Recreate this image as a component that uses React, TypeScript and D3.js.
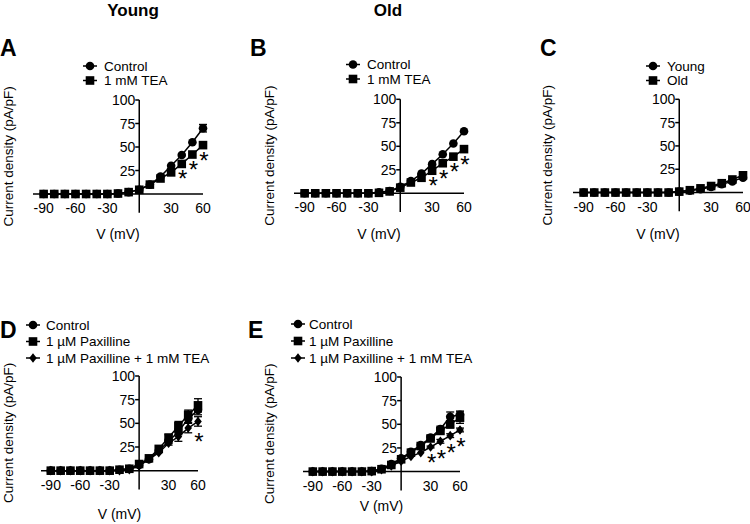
import React from "react";
import * as d3 from "d3";

// ---- Data ----
const VOLTAGES = [-90, -80, -70, -60, -50, -40, -30, -20, -10, 0, 10, 20, 30, 40, 50, 60];
const X_TICKS = [-90, -60, -30, 30, 60];
const Y_TICKS = [25, 50, 75, 100];

// Panel A (Young)
const A_CONTROL = [0, 0, 0, 0, 0, 0, 0, 0.5, 2, 4.5, 10, 18.5, 30, 41.5, 55, 70];
const A_CONTROL_SEM = [0, 0, 0, 0, 0, 0, 0, 0, 0, 0, 0, 0, 0, 0, 0, 4];
const A_TEA = [0, 0, 0, 0, 0, 0, 0, 0.5, 2, 4.5, 10, 16.5, 23, 32, 42, 52];
const A_TEA_SEM = [0, 0, 0, 0, 0, 0, 0, 0, 0, 0, 0, 0, 0, 0, 0, 0];
const A_STARS = [40, 50, 60];

// Panel B (Old)
const B_CONTROL = [0, 0, 0, 0, 0, 0, 0, 1, 2.5, 7, 13, 21, 31, 41.5, 53, 66];
const B_CONTROL_SEM = [0, 0, 0, 0, 0, 0, 0, 0, 0, 0, 0, 0, 0, 0, 0, 0];
const B_TEA = [0, 0, 0, 0, 0, 0, 0, 0.5, 2, 6, 11.5, 16.5, 24, 32, 39, 47];
const B_TEA_SEM = [0, 0, 0, 0, 0, 0, 0, 0, 0, 0, 0, 0, 0, 0, 0, 0];
const B_STARS = [30, 40, 50, 60];

// Panel C (Young vs Old, TEA-sensitive)
const C_YOUNG = [0, 0, 0, 0, 0, 0, 0, 0, 0, 1, 2, 3.5, 6, 9, 12, 16];
const C_OLD = [0, 0, 0, 0, 0, 0, 0, 0, 0, 1, 2.5, 4.5, 7, 10, 14, 18.5];
const C_SEM = [0, 0, 0, 0, 0, 0, 0, 0, 0, 0, 0, 0, 0, 0, 0, 0];

// Panel D (Young, paxilline)
const D_CONTROL = [0, 0, 0, 0, 0, 0, 0, 1, 2, 6, 12, 21, 31, 41, 55, 64];
const D_CONTROL_SEM = [0, 0, 0, 0, 0, 0, 0, 0, 0, 0, 0, 0, 2, 3, 4, 5];
const D_PAX = [0, 0, 0, 0, 0, 0, 0, 1, 2, 7, 13, 23, 35, 47, 59, 69];
const D_PAX_SEM = [0, 0, 0, 0, 0, 0, 0, 0, 0, 0, 0, 0, 3, 5, 5, 7];
const D_PAXTEA = [0, 0, 0, 0, 0, 0, 0, 0, 1, 5, 12, 19, 29, 36, 45, 52];
const D_PAXTEA_SEM = [0, 0, 0, 0, 0, 0, 0, 0, 0, 0, 0, 0, 2, 5, 5, 5];
const D_STARS = [60];

// Panel E (Old, paxilline)
const E_CONTROL = [0, 0, 0, 0, 0, 0, 0.5, 3, 8, 14, 21, 28, 36, 45, 58, 60];
const E_CONTROL_SEM = [0, 0, 0, 0, 0, 0, 0, 0, 0, 0, 0, 0, 2, 3, 5, 4];
const E_PAX = [0, 0, 0, 0, 0, 0, 0.5, 2.5, 7, 13, 20, 27, 35, 43, 50, 57];
const E_PAX_SEM = [0, 0, 0, 0, 0, 0, 0, 0, 0, 0, 0, 0, 2, 3, 4, 6];
const E_PAXTEA = [0, 0, 0, 0, 0, 0, 0, 2, 6, 11, 16, 20, 26, 32, 38, 44];
const E_PAXTEA_SEM = [0, 0, 0, 0, 0, 0, 0, 0, 0, 0, 0, 0, 1, 2, 2, 2];
const E_STARS = [30, 40, 50, 60];

type Marker = "circle" | "square" | "diamond";
type Series = { name: string; marker: Marker; values: number[]; sem: number[] };

const FONT = "Arial, 'Liberation Sans', Helvetica, sans-serif";

type PanelCfg = {
  letter: string;
  letterX: number;
  letterY: number;
  xRange: [number, number];
  yRange: [number, number]; // [y(-20), y(100)]
  yLabelX: number;
  xLabelY: number;
  legendX: number; // marker center
  legendY: number[]; // marker centers
  legendTextX: number;
  series: Series[];
  stars: number[];
  starRef: number; // index of series under which stars go
};

const PANELS: PanelCfg[] = [
  {
    letter: "A", letterX: 0, letterY: 56,
    xRange: [33, 203], yRange: [212.8, 100],
    yLabelX: 12.5, xLabelY: 239,
    legendX: 90, legendY: [66, 80.5], legendTextX: 104,
    series: [
      { name: "Control", marker: "circle", values: A_CONTROL, sem: A_CONTROL_SEM },
      { name: "1 mM TEA", marker: "square", values: A_TEA, sem: A_TEA_SEM },
    ],
    stars: A_STARS, starRef: 1,
  },
  {
    letter: "B", letterX: 250, letterY: 56,
    xRange: [294, 464], yRange: [212.1, 99.3],
    yLabelX: 274, xLabelY: 239,
    legendX: 353, legendY: [64.5, 79], legendTextX: 367,
    series: [
      { name: "Control", marker: "circle", values: B_CONTROL, sem: B_CONTROL_SEM },
      { name: "1 mM TEA", marker: "square", values: B_TEA, sem: B_TEA_SEM },
    ],
    stars: B_STARS, starRef: 1,
  },
  {
    letter: "C", letterX: 540, letterY: 56,
    xRange: [573, 743], yRange: [211.2, 99.3],
    yLabelX: 552, xLabelY: 239,
    legendX: 653, legendY: [66, 80.5], legendTextX: 667,
    series: [
      { name: "Young", marker: "circle", values: C_YOUNG, sem: C_SEM },
      { name: "Old", marker: "square", values: C_OLD, sem: C_SEM },
    ],
    stars: [], starRef: 1,
  },
  {
    letter: "D", letterX: 0, letterY: 338,
    xRange: [41, 198], yRange: [489.6, 376],
    yLabelX: 12.5, xLabelY: 519,
    legendX: 33, legendY: [325, 341.5, 358], legendTextX: 46,
    series: [
      { name: "Control", marker: "circle", values: D_CONTROL, sem: D_CONTROL_SEM },
      { name: "1 µM Paxilline", marker: "square", values: D_PAX, sem: D_PAX_SEM },
      { name: "1 µM Paxilline + 1 mM TEA", marker: "diamond", values: D_PAXTEA, sem: D_PAXTEA_SEM },
    ],
    stars: D_STARS, starRef: 2,
  },
  {
    letter: "E", letterX: 248, letterY: 338,
    xRange: [303, 460], yRange: [490.5, 377],
    yLabelX: 274, xLabelY: 511,
    legendX: 298, legendY: [324, 341, 358], legendTextX: 309,
    series: [
      { name: "Control", marker: "circle", values: E_CONTROL, sem: E_CONTROL_SEM },
      { name: "1 µM Paxilline", marker: "square", values: E_PAX, sem: E_PAX_SEM },
      { name: "1 µM Paxilline + 1 mM TEA", marker: "diamond", values: E_PAXTEA, sem: E_PAXTEA_SEM },
    ],
    stars: E_STARS, starRef: 2,
  },
];

function MarkerShape({ type, x, y }: { type: Marker; x: number; y: number }) {
  if (type === "circle") return <circle cx={x} cy={y} r={4.3} fill="#000" />;
  if (type === "square") return <rect x={x - 4.3} y={y - 4.3} width={8.6} height={8.6} fill="#000" />;
  const h = 4.8, w = 3.8;
  return <path d={`M${x},${y - h}L${x + w},${y}L${x},${y + h}L${x - w},${y}Z`} fill="#000" />;
}

function Panel({ cfg }: { cfg: PanelCfg }) {
  const x = d3.scaleLinear().domain([-100, 60]).range(cfg.xRange);
  const y = d3.scaleLinear().domain([-20, 100]).range(cfg.yRange);
  const line = d3
    .line<number>()
    .x((_, i) => x(VOLTAGES[i]))
    .y((d) => y(d));
  const x0 = x(0);
  const y0 = y(0);
  const yMid = (y(-20) + y(100)) / 2;
  const ref = cfg.series[cfg.starRef];
  return (
    <g>
      <text x={cfg.letterX} y={cfg.letterY} fontFamily={FONT} fontWeight="bold" fontSize={23} fill="#000">
        {cfg.letter}
      </text>
      {/* legend */}
      {cfg.series.map((s, i) => (
        <g key={s.name}>
          <line x1={cfg.legendX - 7} x2={cfg.legendX + 7} y1={cfg.legendY[i]} y2={cfg.legendY[i]} stroke="#000" strokeWidth={1.5} />
          <MarkerShape type={s.marker} x={cfg.legendX} y={cfg.legendY[i]} />
          <text x={cfg.legendTextX} y={cfg.legendY[i]} dy="0.36em" fontFamily={FONT} fontSize={13.5} fill="#000">
            {s.name}
          </text>
        </g>
      ))}
      {/* axes */}
      <line x1={x(-100)} x2={x(60)} y1={y0} y2={y0} stroke="#000" strokeWidth={1.5} />
      <line x1={x0} x2={x0} y1={y(-20)} y2={y(100)} stroke="#000" strokeWidth={1.5} />
      {Y_TICKS.map((t) => (
        <g key={t}>
          <line x1={x0 - 4} x2={x0} y1={y(t)} y2={y(t)} stroke="#000" strokeWidth={1.5} />
          <text x={x0 - 4} y={y(t)} dy="0.36em" textAnchor="end" fontFamily={FONT} fontSize={14} fill="#000">
            {t}
          </text>
        </g>
      ))}
      {X_TICKS.map((t) => (
        <text key={t} x={x(t)} y={y0 + 19} textAnchor="middle" fontFamily={FONT} fontSize={14} fill="#000">
          {t}
        </text>
      ))}
      <text x={(x(-100) + x(60)) / 2} y={cfg.xLabelY} textAnchor="middle" fontFamily={FONT} fontSize={14} fill="#000">
        V (mV)
      </text>
      <text
        transform={`translate(${cfg.yLabelX},${yMid}) rotate(-90)`}
        textAnchor="middle"
        fontFamily={FONT}
        fontSize={13.5}
        fill="#000"
      >
        Current density (pA/pF)
      </text>
      {/* series */}
      {cfg.series.map((s) => (
        <g key={s.name}>
          <path d={line(s.values) || ""} fill="none" stroke="#000" strokeWidth={1.5} />
          {s.values.map((v, i) =>
            s.sem[i] > 0 ? (
              <g key={i}>
                <line x1={x(VOLTAGES[i])} x2={x(VOLTAGES[i])} y1={y(v - s.sem[i])} y2={y(v + s.sem[i])} stroke="#000" strokeWidth={1.3} />
                <line x1={x(VOLTAGES[i]) - 4} x2={x(VOLTAGES[i]) + 4} y1={y(v + s.sem[i])} y2={y(v + s.sem[i])} stroke="#000" strokeWidth={1.3} />
                <line x1={x(VOLTAGES[i]) - 4} x2={x(VOLTAGES[i]) + 4} y1={y(v - s.sem[i])} y2={y(v - s.sem[i])} stroke="#000" strokeWidth={1.3} />
              </g>
            ) : null
          )}
          {s.values.map((v, i) => (
            <MarkerShape key={i} type={s.marker} x={x(VOLTAGES[i])} y={y(v)} />
          ))}
        </g>
      ))}
      {cfg.stars.map((sv) => {
        const i = VOLTAGES.indexOf(sv);
        const v = ref.values[i] - ref.sem[i];
        return (
          <text key={sv} x={x(sv) + 1} y={y(v) + 23.5} textAnchor="middle" fontFamily={FONT} fontSize={24} fill="#000">
            *
          </text>
        );
      })}
    </g>
  );
}

export default function App() {
  return (
    <svg
      width={750}
      height={524}
      style={{ position: "absolute", left: 0, top: 0, background: "#fff" }}
    >
      <rect width={750} height={524} fill="#fff" />
      <text x={133} y={16} textAnchor="middle" fontFamily={FONT} fontWeight="bold" fontSize={17} fill="#000">
        Young
      </text>
      <text x={388} y={16} textAnchor="middle" fontFamily={FONT} fontWeight="bold" fontSize={17} fill="#000">
        Old
      </text>
      {PANELS.map((p) => (
        <Panel key={p.letter} cfg={p} />
      ))}
    </svg>
  );
}
